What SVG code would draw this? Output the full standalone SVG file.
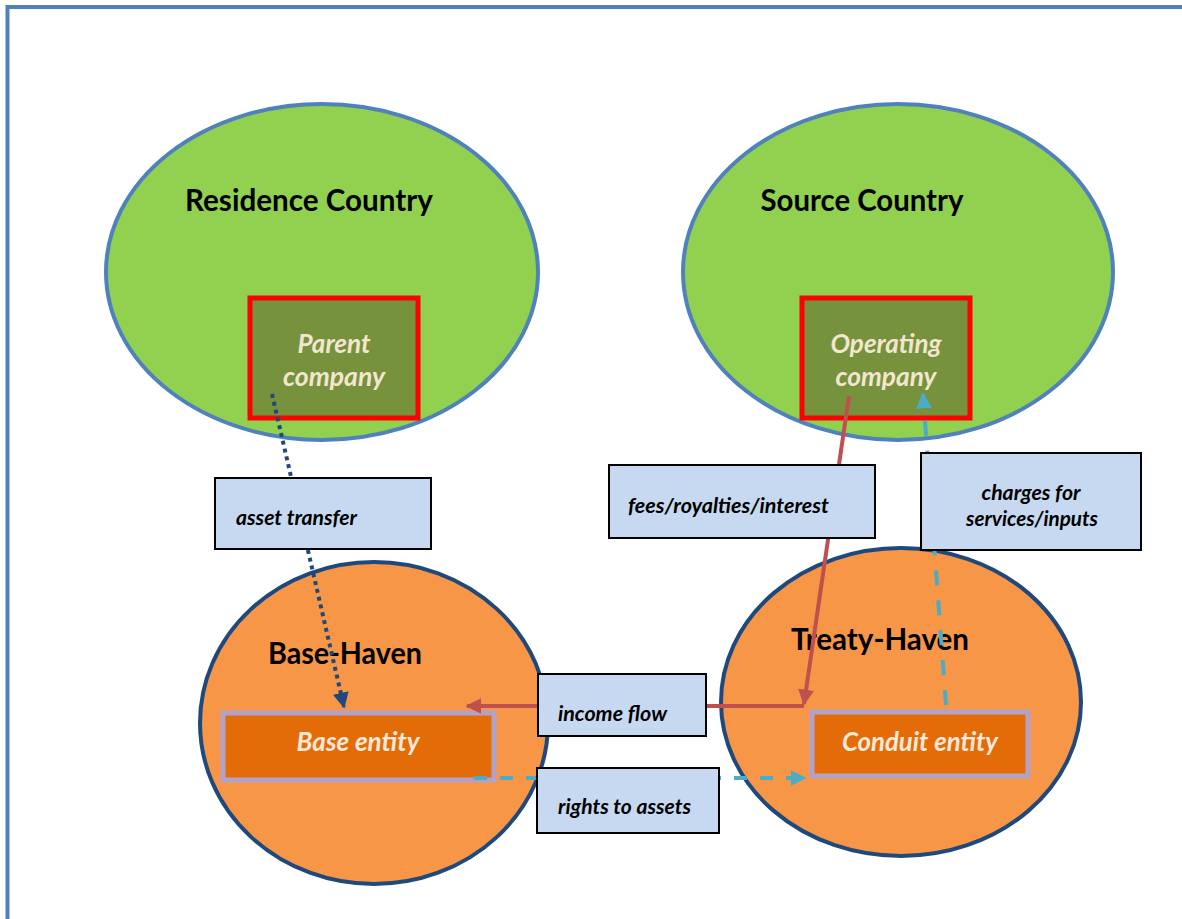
<svg xmlns="http://www.w3.org/2000/svg" width="1182" height="919" viewBox="0 0 1182 919">
<defs>
<style>
.country{fill:#92D050;stroke:#4F81BD;stroke-width:4}
.haven{fill:#F79646;stroke:#1F497D;stroke-width:4}
.co{fill:#76923C;stroke:#FF0000;stroke-width:5}
.ent{fill:#E36C09;stroke:#B3A2C7;stroke-width:5}
.lbl{fill:#C6D9F1;stroke:#000;stroke-width:2}
.title{font-family:Lato,"Liberation Sans",sans-serif;font-weight:bold;font-size:30px;fill:#000;text-anchor:middle}
.cotx{font-family:Lato,"Liberation Sans",sans-serif;font-style:italic;font-weight:bold;font-size:26px;fill:#F2E6D0;text-anchor:middle}
.enttx{font-family:Lato,"Liberation Sans",sans-serif;font-style:italic;font-weight:bold;font-size:26px;fill:#FDE9D9;text-anchor:middle}
.lt{font-family:Lato,"Liberation Sans",sans-serif;font-style:italic;font-weight:bold;font-size:21px;fill:#000}
.red{stroke:#C0504D;stroke-width:4;fill:none}
.cyan{stroke:#4BACC6;stroke-width:4;fill:none}
.dot{stroke:#1F497D;stroke-width:4;fill:none;stroke-dasharray:4 4}
</style>
<marker id="ar" viewBox="0 0 10 10" refX="9" refY="5" markerWidth="4" markerHeight="4" markerUnits="strokeWidth" orient="auto"><path d="M0,0 L10,5 L0,10 z" fill="#C0504D"/></marker>
<marker id="ac" viewBox="0 0 10 10" refX="9" refY="5" markerWidth="4" markerHeight="4" markerUnits="strokeWidth" orient="auto"><path d="M0,0 L10,5 L0,10 z" fill="#4BACC6"/></marker>
<marker id="ab" viewBox="0 0 10 10" refX="9" refY="5" markerWidth="4" markerHeight="4" markerUnits="strokeWidth" orient="auto"><path d="M0,0 L10,5 L0,10 z" fill="#1F497D"/></marker>
</defs>
<rect width="1182" height="919" fill="#fff"/>
<path d="M7.5,919 V7 H1182" fill="none" stroke="#4F81BD" stroke-width="4"/>

<g id="residence">
<ellipse class="country" cx="322" cy="272" rx="216" ry="168"/>
<text class="title" x="309" y="211" textLength="248" lengthAdjust="spacingAndGlyphs">Residence Country</text>
</g>
<g id="source">
<ellipse class="country" cx="898" cy="272" rx="215" ry="168"/>
<text class="title" x="862" y="211" textLength="203" lengthAdjust="spacingAndGlyphs">Source Country</text>
</g>
<g id="parent">
<rect class="co" x="250" y="298" width="168" height="120"/>
<text class="cotx" x="334" y="353" textLength="73" lengthAdjust="spacingAndGlyphs">Parent</text>
<text class="cotx" x="334" y="386" textLength="102" lengthAdjust="spacingAndGlyphs">company</text>
</g>
<g id="operating">
<rect class="co" x="802" y="298" width="168" height="120"/>
<text class="cotx" x="886" y="353" textLength="111" lengthAdjust="spacingAndGlyphs">Operating</text>
<text class="cotx" x="886" y="386" textLength="101" lengthAdjust="spacingAndGlyphs">company</text>
</g>
<g id="basehaven">
<ellipse class="haven" cx="374" cy="723" rx="174" ry="161"/>
<text class="title" x="345" y="664" textLength="154" lengthAdjust="spacingAndGlyphs">Base-Haven</text>
</g>
<g id="treatyhaven">
<ellipse class="haven" cx="901" cy="702" rx="180" ry="154"/>
<text class="title" x="880" y="650" textLength="178" lengthAdjust="spacingAndGlyphs">Treaty-Haven</text>
</g>
<g id="baseentity">
<rect class="ent" x="223" y="713" width="271" height="67"/>
<text class="enttx" x="358" y="751" textLength="123" lengthAdjust="spacingAndGlyphs">Base entity</text>
</g>
<g id="conduit">
<rect class="ent" x="812" y="712" width="216" height="64"/>
<text class="enttx" x="920" y="751" textLength="156" lengthAdjust="spacingAndGlyphs">Conduit entity</text>
</g>

<g id="connectors">
<line class="dot" x1="272" y1="394" x2="344" y2="707" marker-end="url(#ab)"/>
<line class="red" x1="849" y1="396" x2="804" y2="704" marker-end="url(#ar)"/>
<line class="red" x1="804" y1="706" x2="467" y2="706" marker-end="url(#ar)"/>
<line class="cyan" x1="946" y1="705" x2="923" y2="394" stroke-dasharray="15 15" marker-end="url(#ac)"/>
<line class="cyan" x1="474" y1="778" x2="805" y2="778" stroke-dasharray="13 13" marker-end="url(#ac)"/>
</g>

<g id="lbl-asset">
<rect class="lbl" x="215" y="478" width="216" height="71"/>
<text class="lt" x="236" y="525" textLength="121" lengthAdjust="spacingAndGlyphs">asset transfer</text>
</g>
<g id="lbl-fees">
<rect class="lbl" x="609" y="465" width="266" height="73"/>
<text class="lt" x="628" y="513" textLength="201" lengthAdjust="spacingAndGlyphs">fees/royalties/interest</text>
</g>
<g id="lbl-charges">
<rect class="lbl" x="921" y="453" width="220" height="97"/>
<text class="lt" x="1031" y="500" text-anchor="middle" textLength="99" lengthAdjust="spacingAndGlyphs">charges for</text>
<text class="lt" x="1032" y="526" text-anchor="middle" textLength="132" lengthAdjust="spacingAndGlyphs">services/inputs</text>
</g>
<g id="lbl-income">
<rect class="lbl" x="538" y="674" width="168" height="62"/>
<text class="lt" x="558" y="721" textLength="109" lengthAdjust="spacingAndGlyphs">income flow</text>
</g>
<g id="lbl-rights">
<rect class="lbl" x="537" y="768" width="182" height="65"/>
<text class="lt" x="558" y="814" textLength="133" lengthAdjust="spacingAndGlyphs">rights to assets</text>
</g>
</svg>
